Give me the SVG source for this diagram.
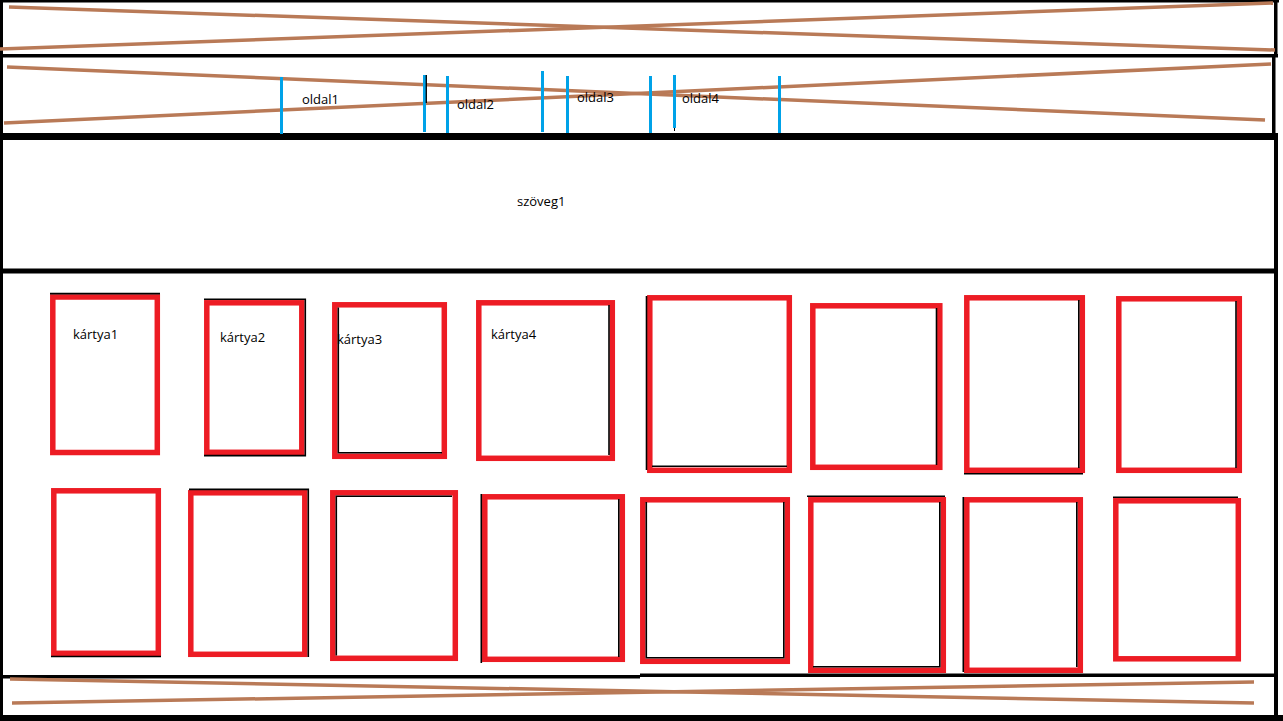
<svg xmlns="http://www.w3.org/2000/svg" width="1283" height="721" viewBox="0 0 1283 721">
<style>
.bg{fill:#fff}
.frame{fill:#000}
.brown{stroke:#B97A57;stroke-width:3.5;fill:none}
.blue{stroke:#00A2E8;stroke-width:3;fill:none}
.card{fill:#fff;stroke:#ED1C24;stroke-width:5.5}
.edge{stroke:#000;stroke-width:1.6;fill:none}
.lbl{font-family:"Open Sans","Noto Sans","Liberation Sans",sans-serif;font-size:13px;fill:#000}
</style>
<rect class="bg" x="0" y="0" width="1283" height="721"/>
<g id="frame">
  <rect class="frame" x="0" y="0" width="1279" height="2.5"/>
  <rect class="frame" x="0" y="0" width="3" height="721"/>
  <rect class="frame" x="0" y="54" width="1278" height="3.5"/>
  <rect class="frame" x="1274" y="0" width="3.5" height="57"/>
  <rect class="frame" x="1272" y="57" width="3.5" height="78"/>
  <rect class="frame" x="0" y="133" width="1278" height="7"/>
  <rect class="frame" x="0" y="268.5" width="1278" height="5"/>
  <rect class="frame" x="1274" y="134" width="4" height="587"/>
  <rect class="frame" x="3" y="675" width="637" height="3.5"/>
  <rect class="frame" x="640" y="673.5" width="638" height="3.5"/>
  <rect class="frame" x="0" y="715" width="1283" height="6"/>
</g>
<g id="header">
  <line class="brown" x1="9" y1="7" x2="1275" y2="50"/>
  <line class="brown" x1="0" y1="49" x2="1273" y2="3"/>
</g>
<g id="nav">
  <line class="brown" x1="7" y1="67" x2="1265" y2="120"/>
  <line class="brown" x1="4" y1="123" x2="1271" y2="64"/>
  <line class="blue" x1="281.5" y1="77" x2="281.5" y2="134"/>
  <line class="blue" x1="424.5" y1="75" x2="424.5" y2="132"/>
  <line x1="426.3" y1="75" x2="426.3" y2="103" stroke="#000" stroke-width="1.3"/>
  <line class="blue" x1="447.5" y1="76" x2="447.5" y2="133"/>
  <line class="blue" x1="542.5" y1="71" x2="542.5" y2="132"/>
  <line class="blue" x1="567.5" y1="76" x2="567.5" y2="133"/>
  <line class="blue" x1="650.5" y1="76" x2="650.5" y2="133"/>
  <line class="blue" x1="674.5" y1="75" x2="674.5" y2="128"/>
  <line x1="674.5" y1="128" x2="674.5" y2="131" stroke="#000" stroke-width="1"/>
  <line class="blue" x1="779.5" y1="76" x2="779.5" y2="133"/>
  <g id="oldal1"><text class="lbl" x="302" y="104">oldal1</text></g>
  <g id="oldal2"><text class="lbl" x="457" y="109">oldal2</text></g>
  <g id="oldal3"><text class="lbl" x="577" y="102">oldal3</text></g>
  <g id="oldal4"><text class="lbl" x="682" y="103">oldal4</text></g>
</g>
<g id="szoveg1"><text class="lbl" x="517" y="206">szöveg1</text></g>
<g id="cards">
  <g id="kartya1">
    <rect class="card" x="52.8" y="297" width="104.5" height="155.5"/>
    <line class="edge" x1="50" y1="293.6" x2="160" y2="293.6"/>
    <text class="lbl" x="73" y="339">kártya1</text>
  </g>
  <g id="kartya2">
    <rect class="card" x="206.8" y="302.8" width="95" height="149.5"/>
    <path class="edge" d="M204 299.2 H305.3 V455.6 H204"/>
    <text class="lbl" x="220" y="342">kártya2</text>
  </g>
  <g id="kartya3">
    <rect class="card" x="334.8" y="304.8" width="109.5" height="151.5"/>
    <path class="edge" d="M338.3 307.5 V452.8 H442"/>
    <text class="lbl" x="337" y="344">kártya3</text>
  </g>
  <g id="kartya4">
    <rect class="card" x="478.8" y="302.8" width="133.5" height="155.5"/>
    <line class="edge" x1="609" y1="305" x2="609" y2="455"/>
    <text class="lbl" x="491" y="339">kártya4</text>
  </g>
  <g id="kartya5">
    <rect class="card" x="649.8" y="297.8" width="139.5" height="172.5"/>
    <path class="edge" d="M646.5 296 V470 M652 466.3 H787"/>
  </g>
  <g id="kartya6">
    <rect class="card" x="812.8" y="305.8" width="127" height="161.5"/>
    <line class="edge" x1="936.5" y1="308" x2="936.5" y2="465"/>
  </g>
  <g id="kartya7">
    <rect class="card" x="966.8" y="297.8" width="115.5" height="172.5"/>
    <path class="edge" d="M964 473.8 H1083 M1078.8 300 V468"/>
  </g>
  <g id="kartya8">
    <rect class="card" x="1118.8" y="298.8" width="120.5" height="171.5"/>
    <line class="edge" x1="1236" y1="301" x2="1236" y2="468"/>
  </g>
  <g id="kartya9">
    <rect class="card" x="53.8" y="490.8" width="104.5" height="162.5"/>
    <line class="edge" x1="51" y1="656.5" x2="161" y2="656.5"/>
  </g>
  <g id="kartya10">
    <rect class="card" x="190.8" y="492.8" width="114" height="161.5"/>
    <path class="edge" d="M189 489.4 H308.3 V657"/>
  </g>
  <g id="kartya11">
    <rect class="card" x="332.8" y="492.8" width="122.5" height="165.5"/>
    <path class="edge" d="M336.3 655.5 V496.3 H452"/>
  </g>
  <g id="kartya12">
    <rect class="card" x="484.8" y="496.8" width="137.5" height="162.5"/>
    <path class="edge" d="M481.3 494 V663 M618.8 499 V657"/>
  </g>
  <g id="kartya13">
    <rect class="card" x="642.8" y="499.8" width="144.5" height="161.5"/>
    <path class="edge" d="M646.3 502 V657.8 H783.8 V502"/>
  </g>
  <g id="kartya14">
    <rect class="card" x="810.8" y="499.8" width="132.5" height="170.5"/>
    <path class="edge" d="M807 496.3 H945 M939.8 502 V666.8 H813"/>
  </g>
  <g id="kartya15">
    <rect class="card" x="966.8" y="499.8" width="113.5" height="170.5"/>
    <path class="edge" d="M963.3 497 V672 M1076.8 502 V667"/>
  </g>
  <g id="kartya16">
    <rect class="card" x="1115.8" y="500.8" width="122.5" height="158"/>
    <line class="edge" x1="1113" y1="497.3" x2="1238" y2="497.3"/>
  </g>
</g>
<g id="footer">
  <line class="brown" x1="10" y1="679" x2="1254" y2="703"/>
  <line class="brown" x1="12" y1="703" x2="1254" y2="682"/>
</g>
</svg>
